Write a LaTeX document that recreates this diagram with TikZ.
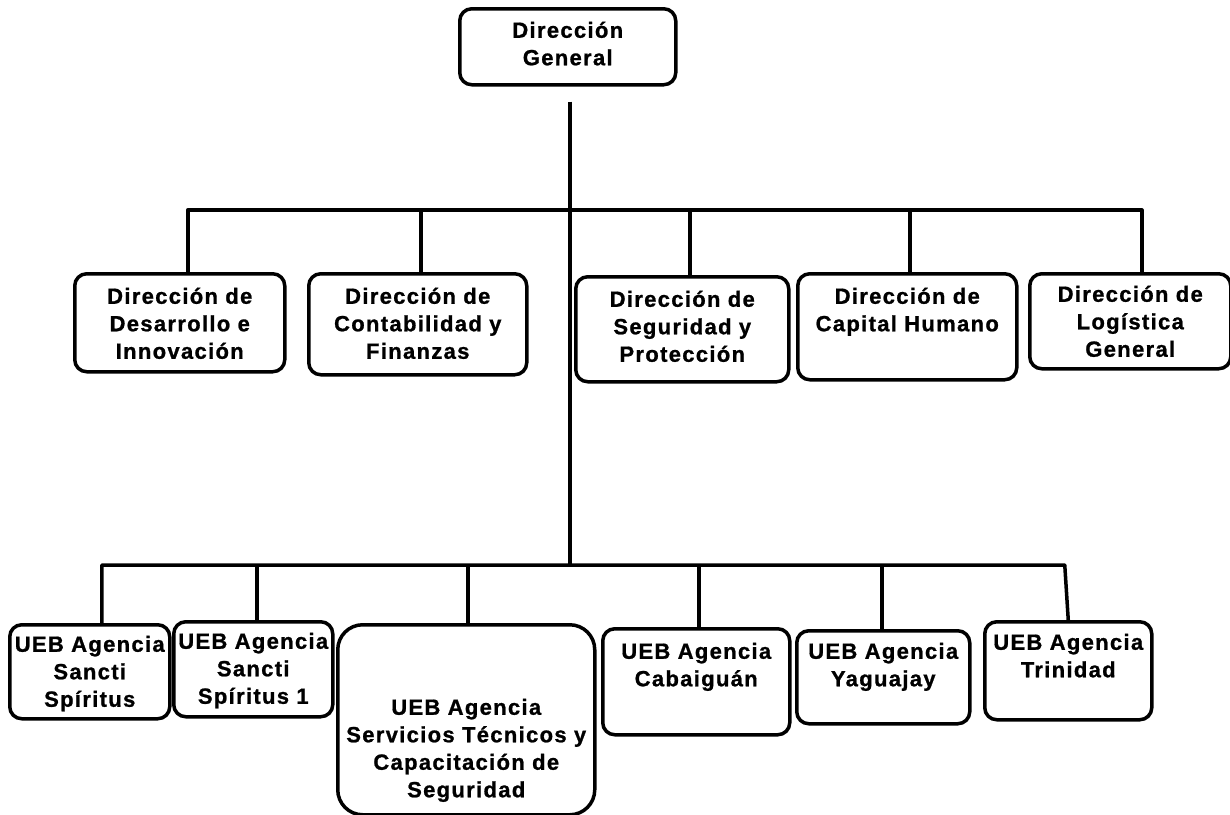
\documentclass[tikz,border=0pt]{standalone}
\usepackage{fontspec}
\setmainfont{Liberation Sans}[LetterSpace=6,BoldFeatures={FakeBold=1}]
\usetikzlibrary{positioning}

\begin{document}
\begin{tikzpicture}
  [x=1pt,y=-1pt,
box/.style={rectangle,rounded corners=12pt,draw,line width=3.5pt,inner sep=0pt,anchor=north west,align=center,font=\bfseries\fontsize{22}{27.5}\selectfont},
lnk/.style={line width=3.5pt,line join=round}]

  \useasboundingbox (0,0) rectangle (1230,814);

  \node[box,minimum width=216,text width=210,text height=29,text depth=47] (dg) at (458,7) {Dirección\\General};

  \node[box,minimum width=210,text width=204,text height=30,text depth=68] (d1) at (73,272) {Dirección de\\Desarrollo e\\Innovación};
  \node[box,minimum width=218,text width=212,text height=30,text depth=71] (d2) at (307,272) {Dirección de\\Contabilidad y\\Finanzas};
  \node[box,minimum width=213,text width=207,text height=30,text depth=75] (d3) at (574,275) {Dirección de\\Seguridad y\\Protección};
  \node[box,minimum width=219,text width=213,text height=30,text depth=76] (d4) at (796,272) {Dirección de\\Capital Humano};
  \node[box,minimum width=201,text width=197,text height=28,text depth=67] (d5) at (1028,272) {Dirección de\\Logística\\General};

  \node[box,minimum width=160,text width=158,text height=27,text depth=67] (u1) at (8,623) {UEB Agencia\\Sancti\\Spíritus};
  \node[box,minimum width=159,text width=157,text height=27,text depth=68] (u2) at (172,620) {UEB Agencia\\Sancti\\Spíritus 1};
  \node[box,rounded corners=25pt,minimum width=257,text width=253,text height=90,text depth=100] (u3) at (336,623) {UEB Agencia\\Servicios Técnicos y\\Capacitación de\\Seguridad};
  \node[box,minimum width=187,text width=183,text height=30,text depth=76] (u4) at (601,627) {UEB Agencia\\Cabaiguán};
  \node[box,minimum width=173,text width=169,text height=28,text depth=65] (u5) at (795,629) {UEB Agencia\\Yaguajay};
  \node[box,minimum width=167,text width=163,text height=28,text depth=70] (u6) at (983,620) {UEB Agencia\\Trinidad};

  \coordinate (ub) at (568,210);
  \coordinate (lb) at (568,565);
  \path (dg.south) ++(2,15) coordinate (tdg);

  \foreach \n/\s in {d1/8,d2/3,d3/7.5,d4/2.5,d5/11.5,u1/12,u2/3.5,u3/1.5,u4/2.5,u5/-1.5,u6/-3.5}
    \path (\n.north) ++(\s,0) coordinate (t\n);

\draw[lnk] (tdg) -- (tdg |- lb);
\draw[lnk] (d1.north -| td1) -- (td1 |- ub) -- (td5 |- ub) -- (d5.north -| td5);
\foreach \n in {d2,d3,d4}
  \draw[lnk] (\n.north -| t\n) -- (t\n |- ub);
\draw[lnk] (u1.north -| tu1) -- (tu1 |- lb) -- (tu6 |- lb) -- (u6.north);
\foreach \n in {u2,u3,u4,u5}
  \draw[lnk] (\n.north -| t\n) -- (t\n |- lb);

\end{tikzpicture}
\end{document}
